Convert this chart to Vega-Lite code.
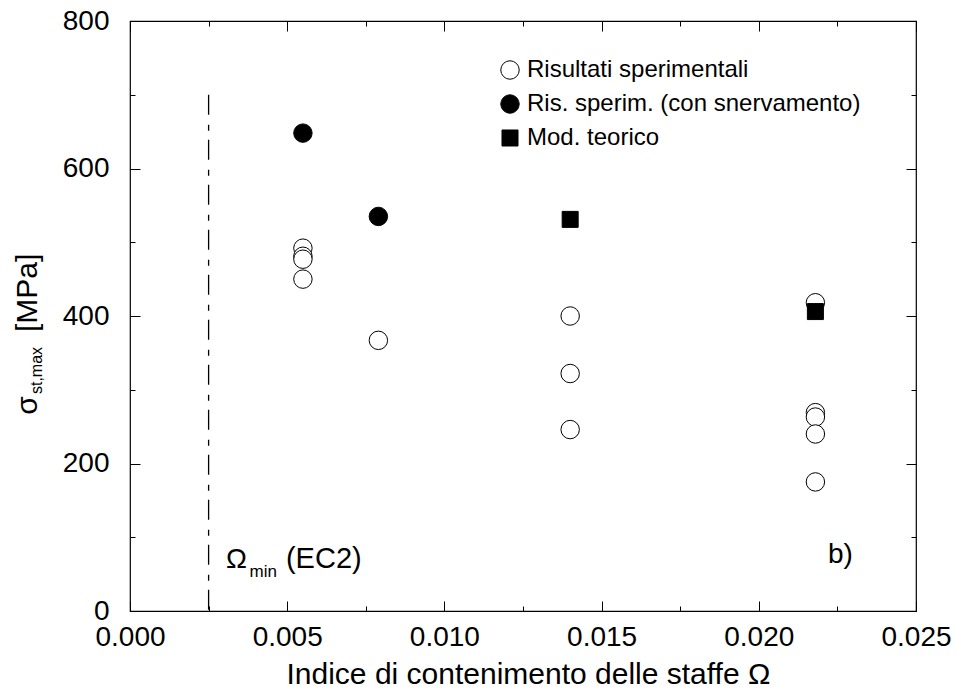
{
  "$schema": "https://vega.github.io/schema/vega-lite/v6.json",
  "width": 786,
  "height": 590,
  "autosize": "none",
  "padding": {"left": 130, "top": 21, "right": 41, "bottom": 80},
  "background": "white",
  "config": {
    "font": "Liberation Sans",
    "view": {"stroke": "black", "strokeWidth": 1.2},
    "axis": {"domain": false, "grid": false, "tickColor": "black", "tickWidth": 1, "labelColor": "black", "titleColor": "black", "labelFlush": false, "labelOverlap": false, "labelBound": false},
    "legend": {"orient": "none", "legendX": 368, "legendY": 37, "title": null, "labelFontSize": 24, "labelColor": "black", "symbolStrokeColor": "black", "symbolStrokeWidth": 1, "symbolSize": 340, "rowPadding": 10, "labelOffset": 5, "padding": 0, "labelLimit": 400, "symbolOpacity": 1}
  },
  "data": {
    "values": [
      {"omega": 0.0055, "sigma": 492, "serie": "Risultati sperimentali"},
      {"omega": 0.0055, "sigma": 481, "serie": "Risultati sperimentali"},
      {"omega": 0.0055, "sigma": 477, "serie": "Risultati sperimentali"},
      {"omega": 0.0055, "sigma": 450, "serie": "Risultati sperimentali"},
      {"omega": 0.0079, "sigma": 367, "serie": "Risultati sperimentali"},
      {"omega": 0.014, "sigma": 400, "serie": "Risultati sperimentali"},
      {"omega": 0.014, "sigma": 322, "serie": "Risultati sperimentali"},
      {"omega": 0.014, "sigma": 246, "serie": "Risultati sperimentali"},
      {"omega": 0.0218, "sigma": 418, "serie": "Risultati sperimentali"},
      {"omega": 0.0218, "sigma": 269, "serie": "Risultati sperimentali"},
      {"omega": 0.0218, "sigma": 263, "serie": "Risultati sperimentali"},
      {"omega": 0.0218, "sigma": 240, "serie": "Risultati sperimentali"},
      {"omega": 0.0218, "sigma": 175, "serie": "Risultati sperimentali"},
      {"omega": 0.0055, "sigma": 648, "serie": "Ris. sperim. (con snervamento)"},
      {"omega": 0.0079, "sigma": 535, "serie": "Ris. sperim. (con snervamento)"},
      {"omega": 0.014, "sigma": 531, "serie": "Mod. teorico"},
      {"omega": 0.0218, "sigma": 406, "serie": "Mod. teorico"}
    ]
  },
  "resolve": {"axis": {"x": "independent", "y": "independent"}},
  "layer": [
    {
      "mark": {"type": "point", "filled": true, "strokeWidth": 1, "size": 340, "opacity": 1},
      "encoding": {
        "x": {"field": "omega", "type": "quantitative", "scale": {"domain": [0, 0.025], "nice": false, "zero": false},
          "axis": {"orient": "bottom", "values": [0, 0.005, 0.01, 0.015, 0.02, 0.025], "format": ".3f", "tickSize": -10, "labelPadding": 22, "labelFontSize": 28,
            "title": "Indice di contenimento delle staffe Ω", "titleFontSize": 30, "titleFontWeight": "normal", "titleX": 156, "titleY": 72, "titleAlign": "left", "titleAnchor": "start", "titleBaseline": "alphabetic"}},
        "y": {"field": "sigma", "type": "quantitative", "scale": {"domain": [0, 800], "nice": false},
          "axis": {"orient": "left", "values": [0, 200, 400, 600, 800], "tickSize": -10, "labelPadding": 31, "labelFontSize": 28, "title": null}},
        "shape": {"field": "serie", "type": "nominal",
          "scale": {"domain": ["Risultati sperimentali", "Ris. sperim. (con snervamento)", "Mod. teorico"], "range": ["circle", "circle", "M-0.868,-0.868H0.868V0.868H-0.868Z"]}},
        "fill": {"field": "serie", "type": "nominal",
          "scale": {"domain": ["Risultati sperimentali", "Ris. sperim. (con snervamento)", "Mod. teorico"], "range": ["white", "black", "black"]}},
        "stroke": {"field": "serie", "type": "nominal",
          "scale": {"domain": ["Risultati sperimentali", "Ris. sperim. (con snervamento)", "Mod. teorico"], "range": ["black", "black", "black"]}}
      }
    },
    {
      "mark": {"type": "point", "opacity": 0},
      "encoding": {
        "x": {"field": "omega", "type": "quantitative", "scale": {"domain": [0, 0.025], "nice": false, "zero": false},
          "axis": {"orient": "bottom", "values": [0.0025, 0.0075, 0.0125, 0.0175, 0.0225], "tickSize": -5, "labels": false, "title": null}},
        "y": {"field": "sigma", "type": "quantitative", "scale": {"domain": [0, 800], "nice": false},
          "axis": {"orient": "left", "values": [100, 300, 500, 700], "tickSize": -5, "labels": false, "title": null}}
      }
    },
    {
      "mark": {"type": "point", "opacity": 0},
      "encoding": {
        "x": {"field": "omega", "type": "quantitative", "scale": {"domain": [0, 0.025], "nice": false, "zero": false},
          "axis": {"orient": "top", "values": [0, 0.005, 0.01, 0.015, 0.02, 0.025], "tickSize": -10, "labels": false, "title": null}},
        "y": {"field": "sigma", "type": "quantitative", "scale": {"domain": [0, 800], "nice": false},
          "axis": {"orient": "right", "values": [0, 200, 400, 600, 800], "tickSize": -10, "labels": false, "title": null}}
      }
    },
    {
      "mark": {"type": "point", "opacity": 0},
      "encoding": {
        "x": {"field": "omega", "type": "quantitative", "scale": {"domain": [0, 0.025], "nice": false, "zero": false},
          "axis": {"orient": "top", "values": [0.0025, 0.0075, 0.0125, 0.0175, 0.0225], "tickSize": -5, "labels": false, "title": null}},
        "y": {"field": "sigma", "type": "quantitative", "scale": {"domain": [0, 800], "nice": false},
          "axis": {"orient": "right", "values": [100, 300, 500, 700], "tickSize": -5, "labels": false, "title": null}}
      }
    },
    {
      "data": {"values": [{}]},
      "mark": {"type": "rule", "strokeDash": [20, 10, 6, 9], "strokeWidth": 1.3, "color": "black"},
      "encoding": {
        "x": {"datum": 0.0025, "type": "quantitative", "axis": null},
        "y": {"datum": 700, "type": "quantitative", "axis": null},
        "y2": {"datum": 0}
      }
    },
    {
      "data": {"values": [{}]},
      "mark": {"type": "text", "text": "Ω", "fontSize": 28, "align": "left", "baseline": "alphabetic", "color": "black"},
      "encoding": {"x": {"datum": 0.00305, "type": "quantitative", "axis": null}, "y": {"datum": 58.3, "type": "quantitative", "axis": null}}
    },
    {
      "data": {"values": [{}]},
      "mark": {"type": "text", "text": "min", "fontSize": 17, "align": "left", "baseline": "alphabetic", "color": "black"},
      "encoding": {"x": {"datum": 0.0038, "type": "quantitative", "axis": null}, "y": {"datum": 46.1, "type": "quantitative", "axis": null}}
    },
    {
      "data": {"values": [{}]},
      "mark": {"type": "text", "text": "(EC2)", "fontSize": 29, "align": "left", "baseline": "alphabetic", "color": "black"},
      "encoding": {"x": {"datum": 0.00496, "type": "quantitative", "axis": null}, "y": {"datum": 58.3, "type": "quantitative", "axis": null}}
    },
    {
      "data": {"values": [{}]},
      "mark": {"type": "text", "text": "b)", "fontSize": 28, "align": "left", "baseline": "alphabetic", "color": "black"},
      "encoding": {"x": {"datum": 0.0222, "type": "quantitative", "axis": null}, "y": {"datum": 65.5, "type": "quantitative", "axis": null}}
    },
    {
      "data": {"values": [{}]},
      "mark": {"type": "text", "text": "σ", "fontSize": 30, "align": "left", "baseline": "alphabetic", "angle": 270, "color": "black"},
      "encoding": {"x": {"datum": -0.00296, "type": "quantitative", "axis": null}, "y": {"datum": 266, "type": "quantitative", "axis": null}}
    },
    {
      "data": {"values": [{}]},
      "mark": {"type": "text", "text": "st,max", "fontSize": 16, "align": "left", "baseline": "alphabetic", "angle": 270, "color": "black"},
      "encoding": {"x": {"datum": -0.0028, "type": "quantitative", "axis": null}, "y": {"datum": 294.2, "type": "quantitative", "axis": null}}
    },
    {
      "data": {"values": [{}]},
      "mark": {"type": "text", "text": "[MPa]", "fontSize": 30, "align": "left", "baseline": "alphabetic", "angle": 270, "color": "black"},
      "encoding": {"x": {"datum": -0.00296, "type": "quantitative", "axis": null}, "y": {"datum": 378.3, "type": "quantitative", "axis": null}}
    }
  ]
}
